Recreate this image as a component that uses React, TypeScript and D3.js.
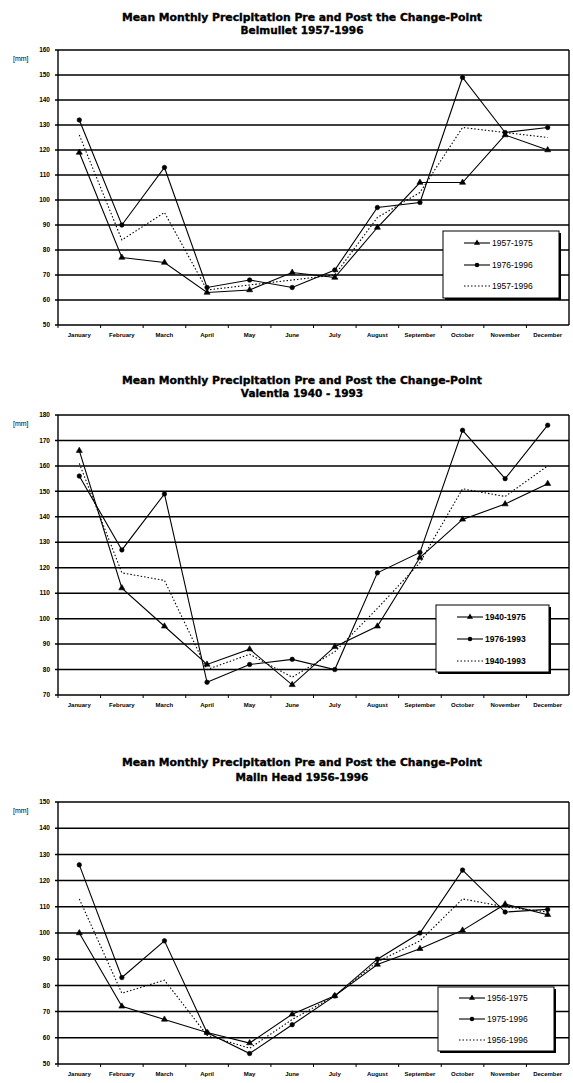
import React from "react";
import * as d3 from "d3";

const months = ["January","February","March","April","May","June","July","August","September","October","November","December"];

// Chart 1: Belmullet
const belTitle = ["Mean Monthly Precipitation Pre and Post the Change-Point", "Belmullet 1957-1996"];
const belLabels = ["1957-1975", "1976-1996", "1957-1996"];
const belA = [119, 77, 75, 63, 64, 71, 69, 89, 107, 107, 126, 120];
const belB = [132, 90, 113, 65, 68, 65, 72, 97, 99, 149, 127, 129];
const belC = [126, 84, 95, 64, 66, 68, 70, 93, 103, 129, 127, 125];
const belTicks = [50, 60, 70, 80, 90, 100, 110, 120, 130, 140, 150, 160];

// Chart 2: Valentia
const valTitle = ["Mean Monthly Precipitation Pre and Post the Change-Point", "Valentia 1940 - 1993"];
const valLabels = ["1940-1975", "1976-1993", "1940-1993"];
const valA = [166, 112, 97, 82, 88, 74, 89, 97, 124, 139, 145, 153];
const valB = [156, 127, 149, 75, 82, 84, 80, 118, 126, 174, 155, 176];
const valC = [161, 118, 115, 80, 86, 77, 87, 104, 122, 151, 148, 160];
const valTicks = [70, 80, 90, 100, 110, 120, 130, 140, 150, 160, 170, 180];

// Chart 3: Malin Head
const malTitle = ["Mean Monthly Precipitation Pre and Post the Change-Point", "Malin Head 1956-1996"];
const malLabels = ["1956-1975", "1975-1996", "1956-1996"];
const malA = [100, 72, 67, 62, 58, 69, 76, 88, 94, 101, 111, 107];
const malB = [126, 83, 97, 62, 54, 65, 76, 90, 100, 124, 108, 109];
const malC = [113, 77, 82, 61, 56, 67, 76, 89, 97, 113, 110, 108];
const malTicks = [50, 60, 70, 80, 90, 100, 110, 120, 130, 140, 150];

type ChartProps = {
  title: string[];
  labels: string[];
  a: number[];
  b: number[];
  c: number[];
  ticks: number[];
  t1: number;
  t2: number;
  top: number;
  bottom: number;
  boldLegend?: boolean;
  legend: { x: number; y: number; w: number; h: number; rows: number[] };
};

const LEFT = 58;
const RIGHT = 569;
const FONT = "'Liberation Sans', Arial, sans-serif";
const TFONT = "'DejaVu Sans', 'Liberation Sans', sans-serif";

function Chart(p: ChartProps) {
  const x = d3.scaleBand().domain(months).range([LEFT, RIGHT]);
  const y = d3.scaleLinear().domain([p.ticks[0], p.ticks[p.ticks.length - 1]]).range([p.bottom, p.top]);
  const cx = (m: string) => (x(m) as number) + x.bandwidth() / 2;
  const line = d3.line<number>().x((_, i) => cx(months[i])).y((v) => y(v));
  const tri = d3.symbol().type(d3.symbolTriangle).size(16)() as string;
  const cir = d3.symbol().type(d3.symbolCircle).size(16)() as string;
  const series = [
    { data: p.a, dash: undefined as string | undefined, marker: tri },
    { data: p.b, dash: undefined as string | undefined, marker: cir },
    { data: p.c, dash: "1.5,2", marker: null as string | null },
  ];
  const lg = p.legend;
  const midX = 302;
  return (
    <g>
      <text x={midX} y={p.t1} textAnchor="middle" fontFamily={TFONT} fontWeight="bold" fontSize={10.5}
        stroke="#000" strokeWidth={0.35} textLength={360} lengthAdjust="spacingAndGlyphs">{p.title[0]}</text>
      <text x={midX} y={p.t2} textAnchor="middle" fontFamily={TFONT} fontWeight="bold" fontSize={10.5}
        stroke="#000" strokeWidth={0.35}>{p.title[1]}</text>
      {p.ticks.map((t) => (
        <g key={t}>
          <line x1={LEFT - 3} x2={RIGHT} y1={y(t)} y2={y(t)} stroke="#000" strokeWidth={1.5} />
          <text x={50} y={y(t) + 2.2} textAnchor="end" fontFamily={FONT} fontWeight="bold" fontSize={6.5}>{t}</text>
        </g>
      ))}
      <text x={13} y={p.top + 11} fontFamily={FONT} fontSize={7}>[mm]</text>
      <line x1={LEFT} x2={LEFT} y1={p.top} y2={p.bottom} stroke="#000" strokeWidth={1.4} />
      <line x1={RIGHT} x2={RIGHT} y1={p.top} y2={p.bottom} stroke="#000" strokeWidth={1.4} />
      {months.map((m) => (
        <g key={m}>
          <line x1={(x(m) as number)} x2={(x(m) as number)} y1={p.bottom} y2={p.bottom + 3} stroke="#000" strokeWidth={1} />
          <text x={cx(m)} y={p.bottom + 12} textAnchor="middle" fontFamily={FONT} fontSize={6} fontWeight="bold">{m}</text>
        </g>
      ))}
      {series.map((s, k) => (
        <g key={k}>
          <path d={line(s.data) as string} fill="none" stroke="#000" strokeWidth={1.1} strokeDasharray={s.dash} />
          {s.marker && s.data.map((v, i) => (
            <path key={i} d={s.marker as string} transform={`translate(${cx(months[i])},${y(v)})`} fill="#000" stroke="#000" strokeWidth={0.6} />
          ))}
        </g>
      ))}
      <rect x={lg.x + 2} y={lg.y + 2} width={lg.w} height={lg.h} fill="#000" />
      <rect x={lg.x} y={lg.y} width={lg.w} height={lg.h} fill="#fff" stroke="#000" strokeWidth={1} />
      {series.map((s, k) => (
        <g key={k}>
          <line x1={lg.x + 21} x2={lg.x + 47} y1={lg.rows[k]} y2={lg.rows[k]} stroke="#000" strokeWidth={1.1} strokeDasharray={s.dash} />
          {s.marker && <path d={s.marker} transform={`translate(${lg.x + 34},${lg.rows[k]})`} fill="#000" />}
          <text x={lg.x + 49} y={lg.rows[k] + 3} fontFamily={FONT} fontSize={8.5} fontWeight={p.boldLegend ? "bold" : "normal"}>{p.labels[k]}</text>
        </g>
      ))}
    </g>
  );
}

export default function App() {
  return (
    <svg width={573} height={1083} style={{ position: "absolute", left: 0, top: 0, background: "#fff" }}>
      <rect x={0} y={0} width={573} height={1083} fill="#fff" />
      <Chart title={belTitle} labels={belLabels} a={belA} b={belB} c={belC} ticks={belTicks}
        t1={21} t2={34} top={50} bottom={325}
        legend={{ x: 443, y: 231, w: 116, h: 67, rows: [243, 265, 286] }} />
      <Chart title={valTitle} labels={valLabels} a={valA} b={valB} c={valC} ticks={valTicks}
        t1={384} t2={397} top={415} bottom={695} boldLegend
        legend={{ x: 436, y: 605, w: 113, h: 67, rows: [617, 639, 661] }} />
      <Chart title={malTitle} labels={malLabels} a={malA} b={malB} c={malC} ticks={malTicks}
        t1={766} t2={781} top={802} bottom={1064}
        legend={{ x: 438, y: 987, w: 116, h: 64, rows: [998, 1019, 1040] }} />
    </svg>
  );
}
